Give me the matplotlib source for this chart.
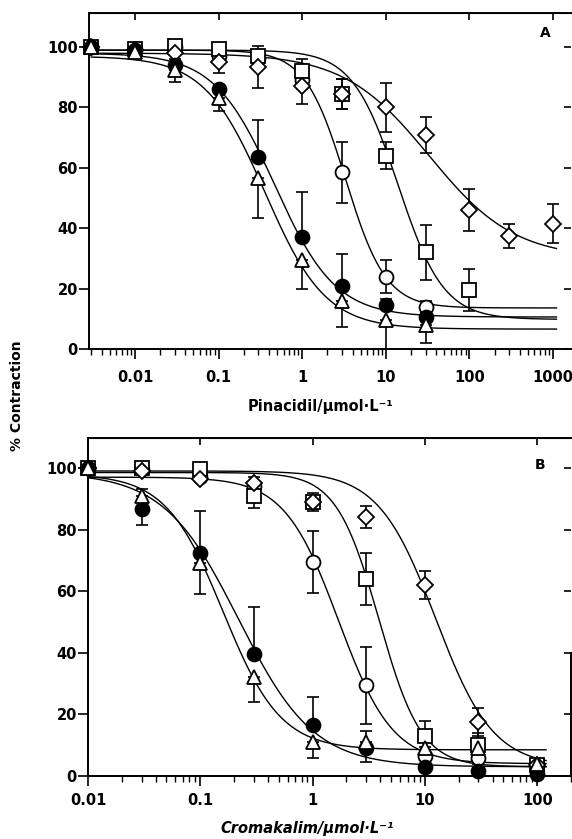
import matplotlib
matplotlib.use('Agg')
import matplotlib.pyplot as plt
import numpy as np

plt.rcParams['font.family'] = ['DejaVu Sans']
plt.rcParams['font.weight'] = 'bold'

# ---- panel A : pinacidil ----
conc_a = [0.003, 0.01, 0.03, 0.1, 0.3, 1, 3, 10, 30, 100, 300, 1000]

a_fcirc = [100, 99, 94, 86, 63.5, 37, 21, 14.6, 10.7]
a_fcirc_lo = [0, 0, 0, 0, 0, 0, 0, 0, 0]
a_fcirc_hi = [0, 0, 0, 0, 12.5, 15, 10.5, 2, 1.5]

a_tri = [100, 98.5, 92.5, 83, 56.5, 29.5, 16, 9.6, 8]
a_tri_lo = [0, 0, 4, 4, 13, 9.5, 8.8, 9.6, 6]
a_tri_hi = [0, 0, 0, 0, 0, 0, 0, 0, 0]

a_circ = [100, 99.5, 100, 97, 96.5, 89, 58.5, 24, 14]
a_circ_err = [0, 0, 0, 2, 2, 3, 10, 5.5, 2]

a_sq = [100, 99.5, 100.5, 99.5, 97, 92, 84.5, 64, 32, 19.5]
a_sq_err = [0, 0, 0, 2, 2, 4, 5, 4.5, 9, 7]

a_dia = [100, 99, 98, 95, 93.5, 87, 84.5, 80, 71, 46, 37.5, 41.5]
a_dia_err = [0, 0, 2, 3.5, 7, 6, 5, 8, 6, 7, 4, 6.5]

# fitted curves: top, bottom, EC50, slope
a_fit = {'fcirc': (98, 10.6, 0.47, 1.2), 'tri': (97, 6.6, 0.36, 1.2),
         'circ': (99, 13.6, 3.3, 1.8), 'sq': (99, 9.8, 14, 1.6),
         'dia': (98, 30, 33, 0.85)}

# ---- panel B : cromakalim ----
conc_b = [0.01, 0.03, 0.1, 0.3, 1, 3, 10, 30, 100]

b_fcirc = [100, 86.5, 72.5, 39.5, 16.5, 9, 3, 1.5, 0.5]
b_fcirc_lo = [0, 5, 0, 0, 0, 4.5, 0, 0, 0]
b_fcirc_hi = [0, 0, 13.5, 15.5, 9, 0, 0, 0, 0]

b_tri = [100, 91, 69, 32, 11, 11, 9, 9, 4]
b_tri_lo = [0, 0, 10, 8, 5, 0, 0, 0, 0]
b_tri_hi = [0, 2, 0, 0, 0, 3.5, 0, 0, 0]

b_circ = [100, 99.5, 97, 94, 69.5, 29.5, 6.5, 6, 3.5]
b_circ_err = [0, 0, 0, 0, 10, 12.5, 3, 2, 0]

b_sq = [100, 100, 99.5, 91, 89, 64, 13, 10, 3.5]
b_sq_err = [0, 0, 1.5, 4, 3, 8.5, 5, 4, 0]

b_dia = [100, 99, 96.5, 95, 89, 84, 62, 17.5, 3.5]
b_dia_err = [0, 0, 0, 2, 2, 3.5, 4.5, 4.5, 0]

b_fit = {'fcirc': (98.5, 3, 0.22, 1.3), 'tri': (98, 8.5, 0.16, 1.7),
         'circ': (97, 4, 1.7, 1.8), 'sq': (98.5, 3, 3.9, 2.3),
         'dia': (99, 3, 12.5, 1.7)}

styles = {'fcirc': dict(marker='o', ms=10, mfc='black'),
          'tri': dict(marker='^', ms=10.5, mfc='white'),
          'circ': dict(marker='o', ms=10, mfc='white'),
          'sq': dict(marker='s', ms=9.5, mfc='white'),
          'dia': dict(marker='D', ms=8, mfc='white')}


def hill(x, top, bottom, ec50, n):
    return bottom + (top - bottom) / (1 + (x / ec50) ** n)


def draw_panel(ax, conc, series, fits, xlim, ylim, curve_x, decades, xpad):
    xs = np.logspace(np.log10(curve_x[0]), np.log10(curve_x[1]), 300)
    for key, (top, bottom, ec50, n) in fits.items():
        ax.plot(xs, hill(xs, top, bottom, ec50, n), color='black', lw=1.0, zorder=1)
    for key, (y, lo, hi) in series.items():
        x = np.array(conc[:len(y)])
        y = np.array(y, dtype=float)
        lo = np.array(lo, dtype=float)
        hi = np.array(hi, dtype=float)
        m = (lo > 0) | (hi > 0)
        ax.errorbar(x[m], y[m], yerr=[lo[m], hi[m]], fmt='none', ecolor='black',
                    elinewidth=1.2, capsize=4.5, capthick=1.2, zorder=2, clip_on=False)
        ax.plot(x, y, ls='none', color='black', mec='black', mew=1.3,
                zorder=3, clip_on=False, **styles[key])
    ax.set_xscale('log')
    ax.set_xlim(*xlim)
    ax.set_ylim(*ylim)
    ax.set_yticks(range(0, 101, 20))
    ax.set_xticks(decades)
    ax.set_xticklabels([('%g' % d) for d in decades])
    ax.tick_params(axis='x', which='major', direction='out', length=7, width=1.2,
                   pad=xpad, labelsize=10.5)
    ax.tick_params(axis='x', which='minor', direction='out', length=4, width=1.0)
    ax.tick_params(axis='y', direction='out', length=7, width=1.2, pad=1, labelsize=10.5)
    for s in ['left', 'bottom', 'top', 'right']:
        ax.spines[s].set_linewidth(1.4)
    for lab in ax.get_xticklabels() + ax.get_yticklabels():
        lab.set_fontweight('bold')

    top = ax.secondary_xaxis('top')
    top.set_xticks(decades)
    top.tick_params(which='major', direction='in', length=5, width=1.2, labeltop=False)
    top.tick_params(which='minor', length=0)
    right = ax.secondary_yaxis('right')
    right.set_yticks(range(0, 101, 20))
    right.tick_params(direction='in', length=5, width=1.2, labelright=False)
    right.spines['right'].set_visible(False)
    return ax


fig = plt.figure(figsize=(5.72, 8.39), dpi=100)

ax_a = fig.add_axes([89 / 572, 1 - 349 / 839, (571 - 89) / 572, (349 - 13) / 839])
series_a = {'circ': (a_circ, a_circ_err, a_circ_err),
            'sq': (a_sq, a_sq_err, a_sq_err),
            'dia': (a_dia, a_dia_err, a_dia_err),
            'fcirc': (a_fcirc, a_fcirc_lo, a_fcirc_hi),
            'tri': (a_tri, a_tri_lo, a_tri_hi)}
draw_panel(ax_a, conc_a, series_a, a_fit, (0.00282, 1640), (0, 111.3),
           (0.003, 1100), [0.01, 0.1, 1, 10, 100, 1000], 8)
ax_a.spines['right'].set_visible(False)

ax_b = fig.add_axes([88 / 572, 1 - 776 / 839, (571 - 88) / 572, (776 - 438) / 839])
series_b = {'circ': (b_circ, b_circ_err, b_circ_err),
            'sq': (b_sq, b_sq_err, b_sq_err),
            'dia': (b_dia, b_dia_err, b_dia_err),
            'fcirc': (b_fcirc, b_fcirc_lo, b_fcirc_hi),
            'tri': (b_tri, b_tri_lo, b_tri_hi)}
draw_panel(ax_b, conc_b, series_b, b_fit, (0.01, 200), (0, 109.7),
           (0.01, 120), [0.01, 0.1, 1, 10, 100], 5.5)
ax_b.spines['right'].set_bounds(0, 40)

fig.text(545 / 572, 1 - 33 / 839, 'A', fontsize=10, fontweight='bold', ha='center', va='center')
fig.text(540 / 572, 1 - 465 / 839, 'B', fontsize=10, fontweight='bold', ha='center', va='center')

fig.text(321 / 572, 1 - 407 / 839, 'Pinacidil/μmol·L⁻¹', fontsize=10.5,
         fontweight='bold', ha='center', va='center')
fig.text(307 / 572, 1 - 828 / 839, 'Cromakalim/μmol·L⁻¹', fontsize=10.5,
         fontweight='bold', fontstyle='italic', ha='center', va='center')
fig.text(17 / 572, 1 - 396 / 839, '% Contraction', fontsize=10, fontweight='bold',
         rotation=90, ha='center', va='center')

fig.savefig('out.png', dpi=100)
